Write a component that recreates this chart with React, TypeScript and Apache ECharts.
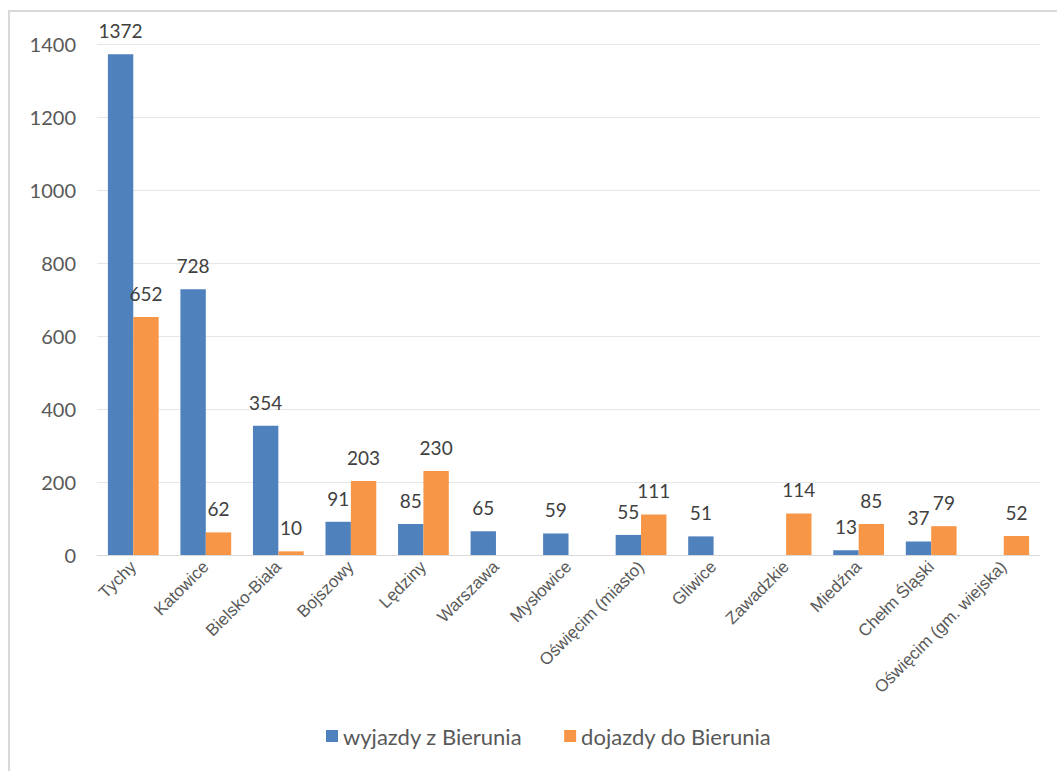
import React, { useEffect, useRef } from "react";
import * as echarts from "echarts";

const categories = [
  "Tychy",
  "Katowice",
  "Bielsko-Biała",
  "Bojszowy",
  "Lędziny",
  "Warszawa",
  "Mysłowice",
  "Oświęcim (miasto)",
  "Gliwice",
  "Zawadzkie",
  "Miedźna",
  "Chełm Śląski",
  "Oświęcim (gm. wiejska)",
];
const wyjazdy: (number | null)[] = [1372, 728, 354, 91, 85, 65, 59, 55, 51, null, 13, 37, null];
const dojazdy: (number | null)[] = [652, 62, 10, 203, 230, null, null, 111, null, 114, 85, 79, 52];
const seriesNames = ["wyjazdy z Bierunia", "dojazdy do Bierunia"];
const yTicks = { min: 0, max: 1400, interval: 200 };

export default function App() {
  const ref = useRef<HTMLDivElement>(null);
  useEffect(() => {
    if (!ref.current) return;
    const chart = echarts.init(ref.current, null, { renderer: "svg" });
    const labelStyle = {
      show: true,
      position: "top" as const,
      distance: 14,
      color: "#404040",
      fontSize: 19,
      fontFamily: "Lato",
    };
    chart.setOption({
      animation: false,
      backgroundColor: "#ffffff",
      graphic: [
        { type: "line", shape: { x1: 8, y1: 11, x2: 1057, y2: 11 }, style: { stroke: "#d9d9d9", lineWidth: 2 } },
        { type: "line", shape: { x1: 9, y1: 11, x2: 9, y2: 771 }, style: { stroke: "#d9d9d9", lineWidth: 2 } },
      ],
      grid: { left: 97, right: 17, top: 44, bottom: 216 },
      legend: {
        bottom: 19,
        left: 321,
        itemWidth: 12,
        itemHeight: 12,
        itemGap: 42,
        icon: "rect",
        textStyle: { color: "#595959", fontSize: 22, fontFamily: "Lato" },
        data: seriesNames,
      },
      xAxis: {
        type: "category",
        data: categories,
        axisLine: { lineStyle: { color: "#d9d9d9", width: 1 } },
        axisTick: { show: false },
        axisLabel: {
          rotate: 45,
          interval: 0,
          color: "#595959",
          fontSize: 17,
          fontFamily: "Liberation Sans",
          margin: 9,
        },
      },
      yAxis: {
        type: "value",
        min: yTicks.min,
        max: yTicks.max,
        interval: yTicks.interval,
        axisLine: { show: false },
        axisTick: { show: false },
        splitLine: { lineStyle: { color: "#e6e6e6", width: 1 } },
        axisLabel: {
          color: "#595959",
          fontSize: 20,
          fontFamily: "Lato",
          margin: 21,
          formatter: (v: number) => String(v),
        },
      },
      series: [
        {
          name: seriesNames[0],
          type: "bar",
          data: wyjazdy,
          itemStyle: { color: "#4f81bd" },
          barGap: "0%",
          barCategoryGap: "30%",
          label: labelStyle,
        },
        {
          name: seriesNames[1],
          type: "bar",
          data: dojazdy,
          itemStyle: { color: "#f79646" },
          barGap: "0%",
          barCategoryGap: "30%",
          label: labelStyle,
        },
      ],
    });
    return () => chart.dispose();
  }, []);
  return (
    <div
      ref={ref}
      style={{ position: "absolute", left: 0, top: 0, width: 1057, height: 771 }}
    />
  );
}
